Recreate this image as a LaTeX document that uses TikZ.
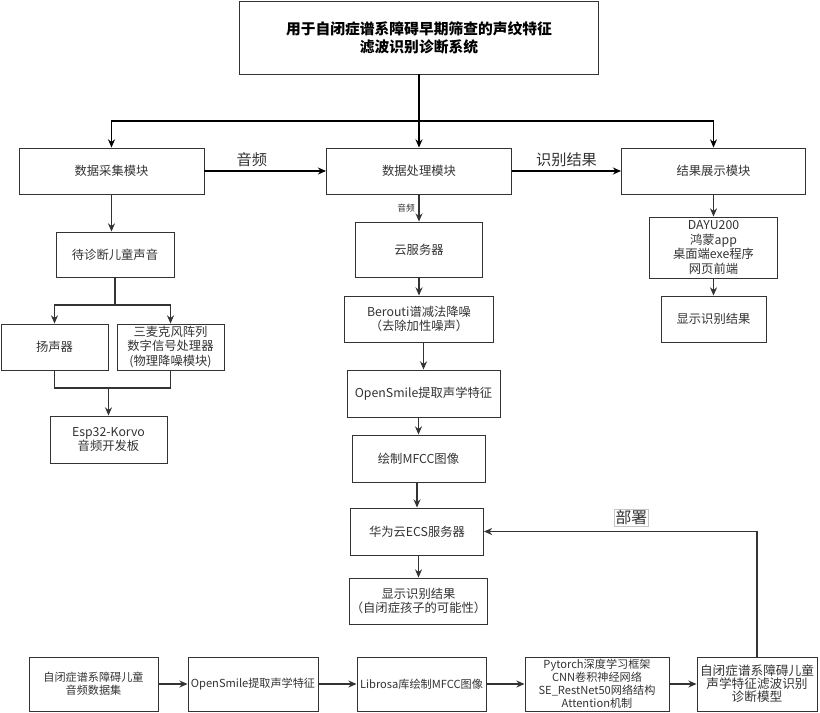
\documentclass[tikz,border=0pt]{standalone}
\usepackage{fontspec}
\setmainfont{Noto Sans CJK SC}
\usetikzlibrary{arrows.meta}
\definecolor{boxgray}{HTML}{333333}
\definecolor{textgray}{HTML}{333333}

\begin{document}
\begin{tikzpicture}[x=0.03cm,y=-0.03cm,
  >={Stealth[length=7pt,width=6pt]},
  sz/.style 2 args={minimum width=#1*0.03cm,minimum height=#2*0.03cm},
  box/.style={draw=boxgray,line width=0.8pt,text=textgray,align=center,inner sep=1pt,
    font=\fontsize{10.5}{12.5}\selectfont},
  small/.style={font=\fontsize{9.5}{11}\selectfont},
  trunk/.style={line width=1.6pt,black},
  conn/.style={line width=1pt,boxgray},
  biglabel/.style={text=textgray,inner sep=1pt,font=\fontsize{13}{15}\selectfont},
  smalllabel/.style={text=textgray,inner sep=1pt,font=\fontsize{7.5}{9}\selectfont},
  tag/.style={draw=gray!45,fill=white,text=textgray,inner sep=1pt,font=\fontsize{13.5}{15}\selectfont}]
  \useasboundingbox (0,0) rectangle (820,713);
  \node[box,sz={359}{73},text=black,font=\fontsize{12.6}{15.3}\selectfont\bfseries] (title) at (419,37.5)
    {用于自闭症谱系障碍早期筛查的声纹特征\\滤波识别诊断系统};
  \node[box,sz={185}{46}] (collect) at (111.5,171) {数据采集模块};
  \node[box,sz={185}{46}] (process) at (419,171) {数据处理模块};
  \node[box,sz={184}{46}] (display) at (713.5,171) {结果展示模块};
  \coordinate (split) at (419,121);
  \draw[trunk,->] (title) -- (process);
  \draw[trunk,->] (split) -| (collect);
  \draw[trunk,->] (split) -| (display);
  \draw[trunk,->] (collect) -- node[biglabel,above=2pt,pos=0.39] {音频} (process);
  \draw[trunk,->] (process) -- node[biglabel,above=2pt] {识别结果} (display);
  % acquisition branch
  \node[box,sz={118}{45}] (wait) at (115,254.5) {待诊断儿童声音};
  \node[box,sz={107}{46}] (speaker) at (54.5,347) {扬声器};
  \node[box,sz={107}{46}] (mic) at (170.5,347) {三麦克风阵列\\数字信号处理器\\(物理降噪模块)};
  \node[box,sz={117}{47}] (esp) at (108.5,439.5) {Esp32-Korvo\\音频开发板};
  \coordinate (fork) at (115,305);
  \coordinate (join) at (108.5,388);
  \draw[conn,->] (collect) -- (collect |- wait.north);
  \draw[conn] (wait) -- (fork);
  \draw[conn,->] (fork) -| (speaker);
  \draw[conn,->] (fork) -| (mic);
  \draw[conn] (speaker) |- (join) -| (mic);
  \draw[conn,->] (join) -- (esp);
  % processing branch
  \node[box,sz={127}{55}] (cloud) at (419,249.5) {云服务器};
  \node[box,sz={149}{46}] (berouti) at (419,319) {Berouti谱减法降噪\\（去除加性噪声）};
  \node[box,sz={153}{47}] (osmid) at (423.5,393.5) {OpenSmile提取声学特征};
  \node[box,sz={133}{47}] (mfcc) at (418.5,458.5) {绘制MFCC图像};
  \node[box,sz={133}{47}] (huawei) at (417,531.5) {华为云ECS服务器};
  \node[box,sz={133}{46}] (verdict) at (418.5,601) {显示识别结果\\（自闭症孩子的可能性）};
  \draw[conn,->] (process) -- node[smalllabel,left=2pt] {音频} (cloud);
  \foreach \a/\b in {cloud/berouti,berouti/osmid,osmid/mfcc,mfcc/huawei,huawei/verdict} {
    \draw[conn,->] (\a.south -| \b) -- (\b.north);
  }
  % display branch
  \node[box,sz={128}{61}] (dayu) at (713.5,247.5) {DAYU200\\鸿蒙app\\桌面端exe程序\\网页前端};
  \node[box,sz={105}{46}] (show) at (713.5,319) {显示识别结果};
  \foreach \a/\b in {display/dayu,dayu/show} {
    \draw[conn,->] (\a) -- (\b);
  }
  % training pipeline
  \node[box,small,sz={129}{54}] (dataset) at (93.5,684) {自闭症谱系障碍儿童\\音频数据集};
  \node[box,small,sz={130}{54}] (osbot) at (253,684) {OpenSmile提取声学特征};
  \node[box,small,sz={129}{54}] (librosa) at (421.5,684) {Librosa库绘制MFCC图像};
  \node[box,small,sz={144}{54}] (pytorch) at (597,684)
    {Pytorch深度学习框架\\CNN卷积神经网络\\SE\_RestNet50网络结构\\Attention机制};
  \node[box,sz={120}{54},font=\fontsize{10.8}{11.2}\selectfont] (model) at (757,684)
    {自闭症谱系障碍儿童\\声学特征滤波识别\\诊断模型};
  \foreach \a/\b in {dataset/osbot,osbot/librosa,librosa/pytorch,pytorch/model} {
    \draw[conn,->] (\a) -- (\b);
  }
  \draw[conn,->] (model) |- node[tag,pos=0.73,above=4pt] {部署} (huawei);
\end{tikzpicture}
\end{document}
